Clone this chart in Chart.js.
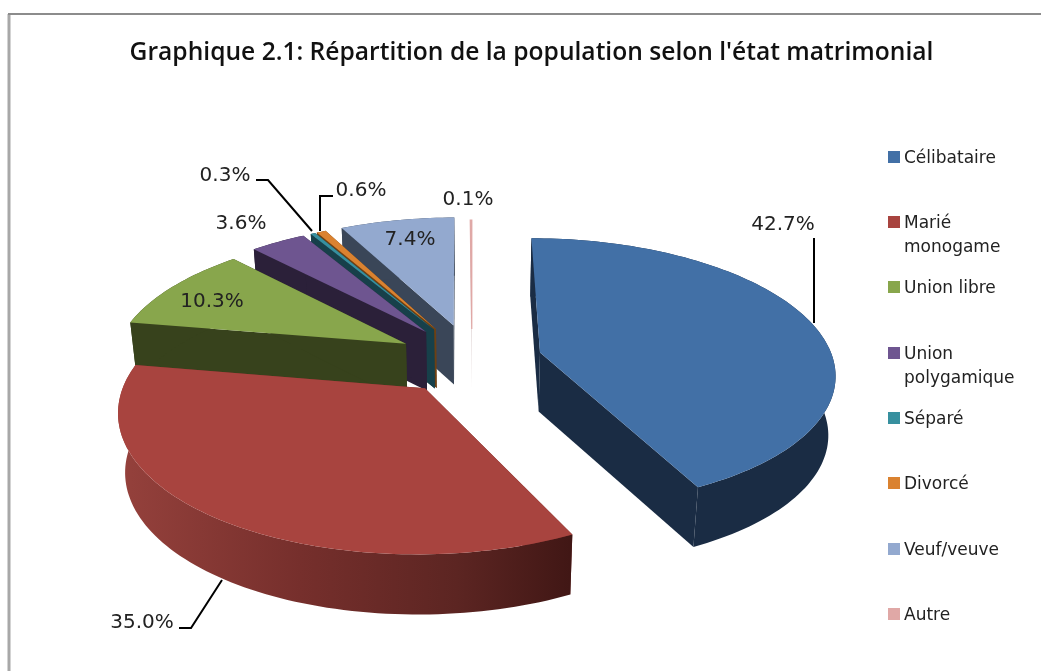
<!DOCTYPE html>
<html lang="fr"><head><meta charset="utf-8">
<style>html,body{margin:0;padding:0;background:#fff}canvas{display:block;filter:blur(.5px)}</style>
<script src="https://cdn.jsdelivr.net/npm/chart.js@4"></script></head>
<body><canvas id="c" width="1041" height="671"></canvas>
<script>
const categories = ['Célibataire','Marié monogame','Union libre','Union polygamique','Séparé','Divorcé','Veuf/veuve','Autre'];
const legendLines = [['Célibataire'],['Marié','monogame'],['Union libre'],['Union','polygamique'],['Séparé'],['Divorcé'],['Veuf/veuve'],['Autre']];
const values = [42.7,35.0,10.3,3.6,0.3,0.6,7.4,0.1];
const topColors = ['#4270a6','#a8443f','#88a64c','#6e5590','#37909f','#da8230','#93a9cf','#e0a8a6'];
const wallColors = ['#1a2c44','#722e2c','#37421c','#2b2039','#17404a','#6e4013','#3a4658','#e4dada'];
const explodeBySlice = [0.24,0.26,0.26,0.27,0.27,0.27,0.275,0.24];
const paintOrder = [7,6,5,4,3,2,0,1];
const titleText = "Graphique 2.1: Répartition de la population selon l'état matrimonial";
// label anchors (text centres) and leader lines are annotation layout
const labelAnchors = [[783,223],[142,621],[212,300],[241,222],[225,174],[361,189],[410,238],[468,198]];
const leaders = {0:[[814,238],[814,323]],1:[[179,628],[191,628],[222,580]],4:[[256,180],[268,180],[312,231]],5:[[333,196],[320,196],[320,231]]};
const legendRowY = [157,222,287,353,418,483,549,614];
const view = {shiftX:-59.5, shiftY:-1, squash:0.453, persp:0.145, depth:59, baseScale:0.98};

const pie3d = {
  id:'pie3d',
  beforeDatasetDraw(chart,args){
    const ctx=chart.ctx, arcs=chart.getDatasetMeta(0).data;
    const el0=arcs[0], cx=el0.x+view.shiftX, cy=el0.y+view.shiftY, R=el0.outerRadius;
    const P=(X,Y,low)=>{const s=1/(1-view.persp*Y), f=low?view.baseScale:1;
      return [cx+R*X*s*f, cy+R*view.squash*Y*s*f+(low?view.depth*(1+(s-1)*.4):0)];};
    const redGrad=ctx.createLinearGradient(120,0,570,0);
    redGrad.addColorStop(0,'#95413c');redGrad.addColorStop(.4,'#762f2c');redGrad.addColorStop(.75,'#5c2522');redGrad.addColorStop(1,'#411715');
    for(const i of paintOrder){
      const el=arcs[i], a0=el.startAngle, a1=el.endAngle, m=(a0+a1)/2;
      const ox=Math.cos(m)*explodeBySlice[i], oy=Math.sin(m)*explodeBySlice[i];
      const n=Math.max(4,Math.ceil((a1-a0)*40));
      const rim=[];for(let k=0;k<=n;k++){const a=a0+(a1-a0)*k/n;rim.push([ox+Math.cos(a),oy+Math.sin(a)]);}
      const poly=(pts,col)=>{ctx.beginPath();pts.forEach((p,j)=>j?ctx.lineTo(p[0],p[1]):ctx.moveTo(p[0],p[1]));ctx.closePath();ctx.fillStyle=col;ctx.fill();};
      const wall=wallColors[i];
      poly([P(ox,oy,0),P(rim[0][0],rim[0][1],0),P(rim[0][0],rim[0][1],1),P(ox,oy,1)],wall);
      poly([P(ox,oy,0),P(rim[n][0],rim[n][1],0),P(rim[n][0],rim[n][1],1),P(ox,oy,1)],wall);
      const top=rim.map(p=>P(p[0],p[1],0)), low=rim.map(p=>P(p[0],p[1],1)).reverse();
      poly(top.concat(low), i===1?redGrad:wall);
      poly([P(ox,oy,0)].concat(top),topColors[i]);
      if(i===7){ctx.strokeStyle=topColors[i];ctx.lineWidth=1.2;ctx.stroke();}
    }
    return false;
  },
  afterDraw(chart){
    const ctx=chart.ctx;
    ctx.save();
    ctx.strokeStyle='#a8a8a8';ctx.lineWidth=3;ctx.beginPath();ctx.moveTo(9,671);ctx.lineTo(9,14);ctx.stroke();
    ctx.strokeStyle='#8c8c8c';ctx.lineWidth=2;ctx.beginPath();ctx.moveTo(8,14);ctx.lineTo(1041,14);ctx.stroke();
    ctx.strokeStyle='#000';ctx.lineWidth=2;
    Object.values(leaders).forEach(l=>{ctx.beginPath();l.forEach((p,j)=>j?ctx.lineTo(p[0],p[1]):ctx.moveTo(p[0],p[1]));ctx.stroke();});
    ctx.fillStyle='#222';ctx.font='20px "DejaVu Sans"';ctx.textAlign='center';ctx.textBaseline='middle';
    values.forEach((v,i)=>ctx.fillText(v.toFixed(1)+'%',labelAnchors[i][0],labelAnchors[i][1]+2));
    ctx.textAlign='left';ctx.font='17px "DejaVu Sans"';
    legendLines.forEach((lines,i)=>{
      const y=legendRowY[i];
      ctx.fillStyle=topColors[i];ctx.fillRect(888,y-6,12,12);
      ctx.fillStyle='#222';lines.forEach((t,j)=>ctx.fillText(t,904,y+2+j*24));
    });
    ctx.restore();
  }
};
new Chart(document.getElementById('c'),{
  type:'pie',
  data:{labels:categories,datasets:[{data:values,backgroundColor:topColors,borderWidth:0}]},
  plugins:[pie3d],
  options:{responsive:false,animation:false,
    layout:{padding:{left:22,right:0,top:0,bottom:17}},
    plugins:{legend:{display:false},tooltip:{enabled:false},
      title:{display:true,text:titleText,color:'#111',font:{family:'"Open Sans"',size:24.6,weight:'600',lineHeight:1.2},padding:{top:38,bottom:0}}}}
});
</script></body></html>
